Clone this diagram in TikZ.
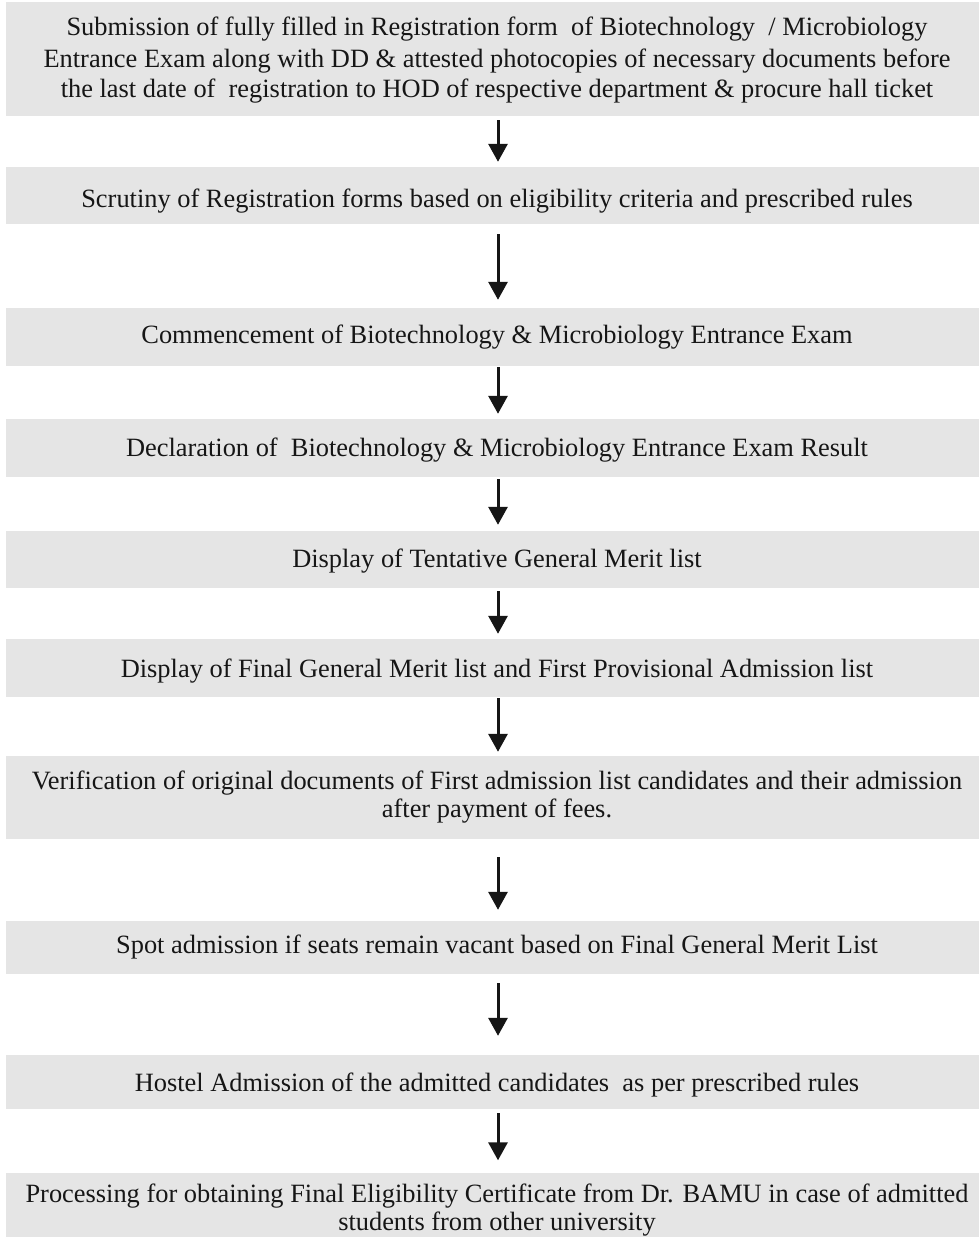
\documentclass[tikz,border=0pt]{standalone}
\usepackage{fontspec}
\setmainfont{Liberation Serif}
\usetikzlibrary{arrows.meta}
\definecolor{boxgray}{RGB}{229,229,229}
\definecolor{inkc}{RGB}{22,22,22}
\newcommand\shdown[2]{\raisebox{-#1}[18pt][6pt]{#2}}
\tikzset{
  stepbox/.style={fill=boxgray, draw=none, minimum width=982pt, inner sep=0pt,
    align=center, text=inkc, font=\fontsize{26.4}{28}\selectfont, anchor=center},
  arr/.style={draw=inkc, line width=3pt, -{Triangle[width=19pt,length=18pt]}}
}
\begin{document}
\begin{tikzpicture}[x=1pt,y=-1pt]
\useasboundingbox (0,0) rectangle (979,1237);
\clip (0,0) rectangle (979,1237);
\node[stepbox, minimum height=114pt, font=\fontsize{26.4}{30.5}\selectfont] (b1) at (497,59)
  {\shdown{1pt}{Submission of fully filled in Registration form\ \ of Biotechnology\ \ / Microbiology}\\
   \shdown{2pt}{Entrance Exam along with DD \& attested photocopies of necessary documents before}\\
   \shdown{2pt}{the last date of\ \ registration to HOD of respective department \& procure hall ticket}};
\node[stepbox, minimum height=57pt] (b2) at (497,195.5)
  {\shdown{6pt}{Scrutiny of Registration forms based on eligibility criteria and prescribed rules}};
\node[stepbox, minimum height=58pt] (b3) at (497,337)
  {\shdown{0pt}{Commencement of Biotechnology \& Microbiology Entrance Exam}};
\node[stepbox, minimum height=58pt] (b4) at (497,448)
  {\shdown{2pt}{Declaration of\ \ Biotechnology \& Microbiology Entrance Exam Result}};
\node[stepbox, minimum height=57pt] (b5) at (497,559.5)
  {\shdown{2pt}{Display of Tentative General Merit list}};
\node[stepbox, minimum height=58pt] (b6) at (497,668)
  {\shdown{3pt}{Display of Final General Merit list and First Provisional Admission list}};
\node[stepbox, minimum height=83pt] (b7) at (497,797.5)
  {Verification of original documents of First admission list candidates and their admission\\
   after payment of fees.};
\node[stepbox, minimum height=53pt] (b8) at (497,947.5)
  {\shdown{0pt}{Spot admission if seats remain vacant based on Final General Merit List}};
\node[stepbox, minimum height=54pt] (b9) at (497,1082)
  {\shdown{3pt}{Hostel Admission of the admitted candidates\ \ as per prescribed rules}};
\node[stepbox, minimum height=75pt] (b10) at (497,1210)
  {Processing for obtaining Final Eligibility Certificate from Dr. BAMU in case of admitted\\
   students from other university};
\draw[arr, shorten <=4pt, shorten >=5pt] ([xshift=1pt]b1.south) -- ([xshift=1pt]b2.north);
\draw[arr, shorten <=10pt, shorten >=8pt] ([xshift=1pt]b2.south) -- ([xshift=1pt]b3.north);
\draw[arr, shorten <=1pt, shorten >=5pt] ([xshift=1pt]b3.south) -- ([xshift=1pt]b4.north);
\draw[arr, shorten <=2pt, shorten >=6pt] ([xshift=1pt]b4.south) -- ([xshift=1pt]b5.north);
\draw[arr, shorten <=3pt, shorten >=5pt] ([xshift=1pt]b5.south) -- ([xshift=1pt]b6.north);
\draw[arr, shorten <=1pt, shorten >=4pt] ([xshift=1pt]b6.south) -- ([xshift=1pt]b7.north);
\draw[arr, shorten <=18pt, shorten >=11pt] ([xshift=1pt]b7.south) -- ([xshift=1pt]b8.north);
\draw[arr, shorten <=9pt, shorten >=19pt] ([xshift=1pt]b8.south) -- ([xshift=1pt]b9.north);
\draw[arr, shorten <=4pt, shorten >=12pt] ([xshift=1pt]b9.south) -- ([xshift=1pt]b10.north);
\end{tikzpicture}
\end{document}
